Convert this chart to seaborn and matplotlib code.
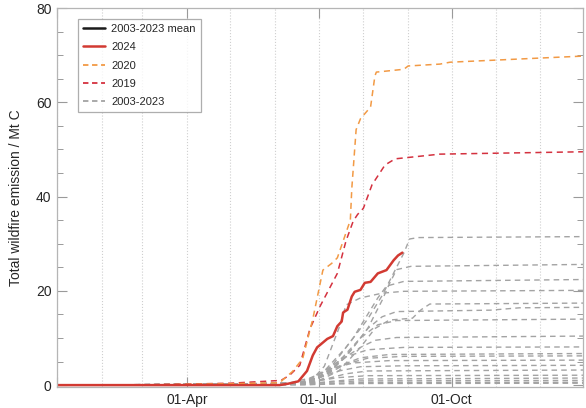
import pandas as pd
import matplotlib.pyplot as plt
import matplotlib.dates as mdates
from matplotlib.lines import Line2D
import seaborn as sns

# day-of-year knots (cumulative Mt C)
days_2024 = [0, 154, 160, 167, 173, 177, 180, 187, 191, 194, 197, 198, 201, 204, 206, 210, 213, 217, 222, 228, 233, 236, 239]
vals_2024 = [0, 0, 0.3, 0.8, 3, 6.3, 8, 9.8, 10.4, 12.5, 13.5, 15.4, 16, 18.8, 19.8, 20.2, 21.7, 21.9, 23.7, 24.4, 26.5, 27.5, 28.1]

days_2020 = [0, 60, 120, 154, 163, 170, 177, 184, 190, 194, 203, 204, 207, 210, 217, 220, 221, 240, 243, 265, 272, 364]
vals_2020 = [0, 0.05, 0.3, 0.5, 2.9, 5.6, 14, 24.4, 25.8, 27, 35, 41.7, 54.2, 56.5, 59, 65.6, 66.4, 67, 67.7, 68.1, 68.5, 69.8]

days_2019 = [0, 60, 120, 155, 161, 168, 175, 182, 194, 200, 205, 208, 212, 218, 227, 234, 265, 364]
vals_2019 = [0, 0.05, 0.4, 1, 2.1, 4.2, 11.9, 16.7, 23.7, 30.6, 34.8, 36.2, 37.5, 42.5, 46.7, 48, 49, 49.5]

# other years 2003-2023 (grey)
grey_days = [
    [0, 120, 170, 185, 200, 215, 225, 235, 240, 244, 250, 364],
    [0, 120, 170, 185, 200, 215, 225, 230, 235, 245, 364],
    [0, 120, 172, 190, 205, 215, 222, 228, 240, 364],
    [0, 120, 175, 185, 195, 200, 210, 225, 240, 364],
    [0, 120, 178, 195, 210, 220, 230, 246, 252, 258, 364],
    [0, 120, 175, 190, 205, 215, 225, 235, 300, 320, 364],
    [0, 120, 172, 185, 198, 210, 222, 235, 364],
    [0, 120, 170, 180, 190, 200, 210, 220, 235, 364],
    [0, 120, 165, 178, 190, 200, 215, 240, 364],
    [0, 120, 168, 180, 195, 210, 230, 364],
    [0, 120, 172, 185, 200, 215, 240, 364],
    [0, 120, 160, 175, 190, 205, 230, 364],
    [0, 120, 165, 180, 195, 210, 240, 364],
    [0, 120, 170, 185, 200, 215, 364],
    [0, 120, 165, 180, 195, 215, 364],
    [0, 120, 170, 190, 210, 364],
    [0, 120, 168, 188, 210, 364],
    [0, 120, 172, 190, 210, 364],
    [0, 120, 175, 195, 215, 364],
]
grey_vals = [
    [0, 0.2, 0.5, 3, 8, 14, 19, 25, 28, 31, 31.3, 31.5],
    [0, 0.2, 0.4, 2, 6, 12, 18, 21.5, 24.5, 25.2, 25.6],
    [0, 0.2, 0.5, 4, 10, 15, 18.5, 21, 22, 22.4],
    [0, 0.2, 0.6, 4, 12, 17, 18.5, 19.5, 19.9, 20.1],
    [0, 0.2, 0.5, 3, 8, 12, 13.8, 14.2, 16, 17.2, 17.4],
    [0, 0.2, 0.5, 3, 8, 12, 14.5, 15.6, 15.9, 16.4, 16.5],
    [0, 0.2, 0.5, 2.5, 6, 10, 12.8, 13.7, 14.0],
    [0, 0.2, 0.4, 1.5, 3.5, 6, 8, 9.5, 10.1, 10.4],
    [0, 0.2, 0.4, 1.5, 4, 6, 7.5, 8, 8.1],
    [0, 0.1, 0.3, 1.5, 4, 5.8, 6.5, 6.7],
    [0, 0.1, 0.3, 2, 4.5, 5.7, 6.1, 6.2],
    [0, 0.2, 0.4, 1.5, 3.5, 4.7, 5.2, 5.3],
    [0, 0.1, 0.3, 1.5, 3, 3.9, 4.1, 4.2],
    [0, 0.1, 0.3, 1.2, 2.4, 3, 3.2],
    [0, 0.1, 0.3, 0.9, 1.6, 2, 2.1],
    [0, 0.05, 0.2, 0.8, 1.3, 1.5],
    [0, 0.05, 0.15, 0.6, 0.9, 1.0],
    [0, 0.05, 0.1, 0.35, 0.55, 0.6],
    [0, 0.02, 0.1, 0.25, 0.35, 0.4],
]

base = pd.Timestamp('2023-01-01')


def to_frame(days, vals):
    return pd.DataFrame({'date': base + pd.to_timedelta(days, unit='D'), 'value': vals})


sns.set_theme(style="ticks")
plt.rcParams['font.family'] = ['Liberation Sans', 'DejaVu Sans']

fig = plt.figure(figsize=(5.86, 4.08), dpi=100)
ax = fig.add_axes([57 / 586, 21 / 408, 526 / 586, 379 / 408])

grey_col = '#a3a3a3'
for d, v in zip(grey_days, grey_vals):
    sns.lineplot(data=to_frame(d, v), x='date', y='value', ax=ax, color=grey_col,
                 lw=1.0, linestyle=(0, (4, 3)), estimator=None)

sns.lineplot(data=to_frame(days_2019, vals_2019), x='date', y='value', ax=ax, color='#d4313f',
             lw=1.1, linestyle=(0, (4, 3)), estimator=None)
sns.lineplot(data=to_frame(days_2020, vals_2020), x='date', y='value', ax=ax, color='#f29a45',
             lw=1.1, linestyle=(0, (4, 3)), estimator=None)
sns.lineplot(data=to_frame(days_2024, vals_2024), x='date', y='value', ax=ax, color='#d23a32',
             lw=1.8, estimator=None)

ax.set_xlim(base, pd.Timestamp('2023-12-31'))
ax.set_ylim(-0.4, 80)

ax.xaxis.set_major_locator(mdates.MonthLocator(bymonth=[1, 4, 7, 10]))
ax.xaxis.set_major_formatter(mdates.DateFormatter('%d-%b'))
ax.xaxis.set_minor_locator(mdates.MonthLocator())
ax.set_yticks([0, 20, 40, 60, 80])
ax.set_yticks(range(0, 81, 5), minor=True)
ax.set_xticklabels(['', '01-Apr', '01-Jul', '01-Oct'])

ax.tick_params(axis='both', which='major', direction='in', length=7, width=0.8,
               color='#9a9a9a', labelsize=10, top=True, right=True, pad=4)
ax.tick_params(axis='y', which='minor', direction='in', length=4, width=0.7,
               color='#9a9a9a', right=True)
ax.tick_params(axis='x', which='minor', length=0)
ax.grid(axis='x', which='both', linestyle=':', color='#cfcfcf', lw=0.8)
ax.grid(axis='y', visible=False)

for sp in ax.spines.values():
    sp.set_visible(True)
    sp.set_color('#b5b5b5')
    sp.set_linewidth(0.9)

ax.set_xlabel('')
ax.set_ylabel('Total wildfire emission / Mt C', fontsize=10, labelpad=9)

handles = [
    Line2D([], [], color='#1a1a1a', lw=1.8),
    Line2D([], [], color='#d23a32', lw=1.8),
    Line2D([], [], color='#f29a45', lw=1.3, linestyle=(0, (3, 2))),
    Line2D([], [], color='#d4313f', lw=1.3, linestyle=(0, (3, 2))),
    Line2D([], [], color=grey_col, lw=1.3, linestyle=(0, (3, 2))),
]
labels = ['2003-2023 mean', '2024', '2020', '2019', '2003-2023']
leg = ax.legend(handles, labels, loc='upper left', bbox_to_anchor=(0.04, 0.971),
                fontsize=8, frameon=True, fancybox=False, handlelength=2.0,
                labelspacing=0.75, borderpad=0.45, borderaxespad=0,
                handletextpad=0.55)
leg.get_frame().set_edgecolor('#9a9a9a')
leg.get_frame().set_linewidth(0.9)

plt.savefig('out.png', dpi=100)
